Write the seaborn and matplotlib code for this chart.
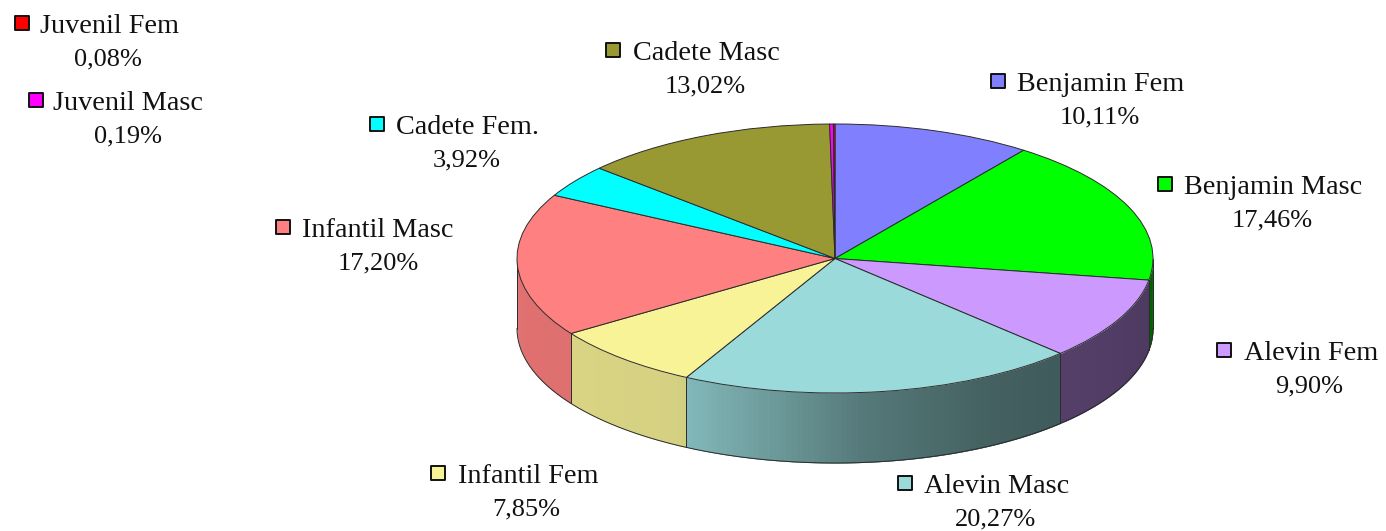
import numpy as np
import matplotlib
matplotlib.use("Agg")
import matplotlib.pyplot as plt
import seaborn as sns

# ---------- data ----------
names = ["Benjamin Fem", "Benjamin Masc", "Alevin Fem", "Alevin Masc", "Infantil Fem",
         "Infantil Masc", "Cadete Fem.", "Cadete Masc", "Juvenil Masc", "Juvenil Fem"]
values = [10.11, 17.46, 9.90, 20.27, 7.85, 17.20, 3.92, 13.02, 0.19, 0.08]
hex_colors = ["#8080FF", "#00FF00", "#CC99FF", "#9ADADB", "#F8F397",
              "#FF8080", "#00FFFF", "#999933", "#FF00FF", "#FF0000"]

# ---------- layout, in reference pixels ----------
W, H = 1386, 531
CX, CY, RX, RY = 835, 258.5, 318, 134.5
DEPTH = 70 / RY
key_x = [998, 1165, 1224, 905, 438, 283, 377, 613, 36, 22]
name_x = [1101, 1273, 1311, 997, 528, 378, 467, 706, 128, 109]
value_x = [1100, 1272, 1309, 995, 526, 378, 467, 705, 128, 108]
name_y = [82, 185, 351, 484, 474, 228, 125, 51, 101, 24]

sns.set_theme(style="white")
plt.rcParams["font.family"] = ["Liberation Serif", "DejaVu Serif"]
palette = sns.color_palette(hex_colors)
EDGE = "#2b2b2b"

fig = plt.figure(figsize=(W / 100, H / 100), dpi=100)
ax = fig.add_axes([0, 0, 1, 1])

# top face
wedges, _ = ax.pie(values, colors=palette, startangle=90, counterclock=False,
                   wedgeprops={"edgecolor": EDGE, "linewidth": 0.7})
for w in wedges:
    w.set_zorder(3)

# side wall, shaded strip by strip from left to right
def shade(x):
    return np.interp(x, [-1, -0.5, -0.42, 0.1, 0.5, 1], [0.88, 0.86, 0.82, 0.55, 0.44, 0.38])

bounds = 90 - np.concatenate([[0], np.cumsum(values)]) * 3.6
for i, col in enumerate(palette):
    # keep only the part of the wedge on the lower half of the ellipse
    a1 = (bounds[i + 1]) % 360
    a0 = a1 + values[i] * 3.6
    lo, hi = max(a1, 180), min(a0, 360)
    if hi <= lo:
        continue
    steps = np.linspace(lo, hi, max(2, int(hi - lo) + 2))
    for j in range(len(steps) - 1):
        # each strip runs under the next one so no seams show
        t = np.radians(steps[j:j + 3])
        x = np.cos(t)
        y = np.sin(t)
        c = np.array(col) * shade(x[:2].mean())
        ax.fill_between(x, y, y - DEPTH, color=c, linewidth=0, zorder=1)
    # wedge boundaries on the wall
    for b in (lo, hi):
        if 180 < b < 360:
            bx, by = np.cos(np.radians(b)), np.sin(np.radians(b))
            ax.plot([bx, bx], [by, by - DEPTH], color=EDGE, lw=0.6, zorder=2)

arc = np.radians(np.linspace(180, 360, 300))
ax.plot(np.cos(arc), np.sin(arc) - DEPTH, color=EDGE, lw=0.7, zorder=2)
ax.plot([-1, -1], [0, -DEPTH], color=EDGE, lw=0.7, zorder=2)
ax.plot([1, 1], [0, -DEPTH], color=EDGE, lw=0.7, zorder=2)

ax.set_aspect("auto")
ax.set_xlim(-CX / RX, (W - CX) / RX)
ax.set_ylim((CY - H) / RY, CY / RY)

# labels on a pixel overlay
over = fig.add_axes([0, 0, 1, 1], facecolor="none")
over.set_xlim(0, W)
over.set_ylim(H, 0)
over.axis("off")
TXT = "#111111"
for i, name in enumerate(names):
    over.scatter(key_x[i], name_y[i] - 1, marker="s", s=92, color=palette[i],
                 edgecolors="#111111", linewidths=1.4)
    over.text(name_x[i], name_y[i] + 9, name, ha="center", va="baseline",
              fontsize=20.3, color=TXT)
    label = f"{values[i]:.2f}".replace(".", ",") + "%"
    over.text(value_x[i], name_y[i] + 41, label, ha="center", va="baseline",
              fontsize=19, color=TXT)

fig.savefig("out.png", dpi=100, facecolor="white")
